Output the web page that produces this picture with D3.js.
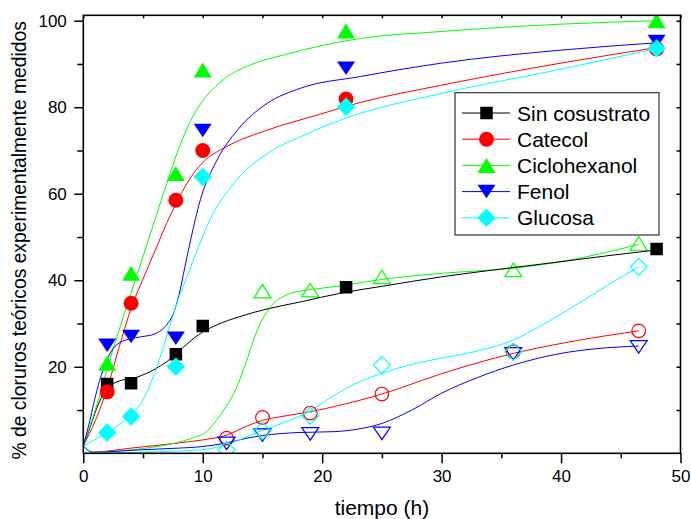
<!DOCTYPE html>
<html>
<head>
<meta charset="utf-8">
<script src="https://cdn.jsdelivr.net/npm/d3@7"></script>
<style>
  body { margin: 0; background: #fff; }
  svg { display: block; }
  text { font-family: "Liberation Sans", Arial, sans-serif; fill: #000; }
</style>
</head>
<body>
<svg id="chart" width="691" height="519"></svg>
<script>
// ---- Measured points (time in hours, % of theoretical chloride) ----
const horasLlenas = [2, 4, 7.75, 10, 22, 48];
const sinCosustrato = [16.0, 16.2, 22.9, 29.4, 38.4, 47.2];
const catecol = [14.2, 34.7, 58.5, 70.0, 81.9, 93.5];
const ciclohexanol = [20.8, 41.6, 64.7, 88.6, 97.6, 100];
const fenol = [25.0, 27.0, 26.6, 74.6, 89.0, 95.2];
const glucosa = [4.8, 8.5, 20.0, 63.9, 80.1, 93.6];

const horasAbiertas = [12, 15, 19, 25, 36, 46.5];
const catecolAb = [3.5, 8.3, 9.3, 13.7, 23.5, 28.3];
const ciclohexanolAb = [null, 37.5, 37.7, 40.8, 42.4, 48.5];
const fenolAb = [2.3, 4.2, 4.5, 4.6, 23.0, 24.6];
const glucosaAb = [0.8, 5.2, 8.7, 20.4, 23.5, 43.1];

// ---- Smoothed trend curves, [hours, %] ----
const curvaSin = [[0,1.7],[0.5,5.5],[1,9.5],[1.5,12.8],[2,15],[2.8,16.5],[4.5,17.6],[5.9,19.3],[7,21.2],[8.4,24.6],[9.8,27.7],[11.2,29.7],[13.1,31.6],[15.6,33.5],[18.2,35],[21.5,37],[25,38.6],[30,40.8],[35,42.6],[40,44.3],[44,45.7],[48,47]];
const curvaCatecol = [[0,1.7],[0.5,4.5],[1,7.5],[2,15],[3,24.5],[4,33.5],[5,40.3],[6,46.8],[7,53.3],[8,59],[9,63.8],[10,67.2],[12,70.9],[15.4,74.7],[19.6,78.2],[23.2,81.1],[30,85.1],[40,90.2],[48,93.8]];
const curvaCiclo = [[0,1.7],[0.5,5.8],[1,10],[2,19.5],[3,28.5],[4,37],[5,45.5],[6,54],[7,62.5],[8,70.5],[9,77],[10,81.5],[11.7,86.3],[14,89.8],[16.8,92.1],[23.2,95.9],[30,97.5],[40,99.2],[48,100]];
const curvaFenol = [[0,1.7],[0.5,7],[1,13],[1.5,18],[2,21.8],[2.5,24.2],[3,25.5],[4,26.5],[5,27],[6,27.6],[7,29.8],[7.5,32],[8,36.5],[8.5,43],[9,49.5],[9.8,58.6],[11.2,67.8],[12.9,74.7],[15.4,80.9],[18.2,84.4],[23.2,87.1],[30,90.2],[40,93.2],[48,94.9]];
const curvaGlucosa = [[0,1.7],[1,3.2],[2,4.8],[3,6.6],[4,8.8],[4.7,11],[5.3,14],[6.4,22],[7.3,30],[8,36],[8.7,41],[9.4,46],[10.6,54],[12.6,62.4],[15.4,69.3],[18.2,73.2],[22,77.5],[30,83.2],[40,88.8],[48,93.6]];

const curvaCatecolAb = [[0,1.7],[0.8,0.3],[4,1.2],[8,2.4],[10,3.1],[12,4.2],[13.7,6.3],[15,7.6],[16.8,8.6],[19,9.6],[21,10.8],[25,13.7],[30,18.4],[36,23.1],[40,25.4],[46.5,28.3]];
const curvaCicloAb = [[0,1.7],[0.8,0.2],[3,0.5],[5,1.1],[7.6,2.3],[9,3.4],[10.3,5],[11.2,7.8],[12,11],[12.6,13.8],[13.1,17],[13.5,20],[14.5,28],[15.6,33.6],[17,36.6],[18.4,37.6],[19.8,38.1],[21.5,38.7],[25,40.2],[30,41.6],[36,42.8],[40,44.3],[46.5,48.3]];
const curvaFenolAb = [[0,1.7],[0.8,0.2],[4,0.7],[8,1.2],[9.8,1.5],[12,2.4],[13.7,3.5],[15,4.1],[18,4.8],[21,5],[23,5.6],[25,6.9],[27.5,10],[30,13.9],[33,17.5],[36,20.4],[40,23.1],[43,24.2],[46.5,24.8]];
const curvaGlucosaAb = [[0,1.7],[0.8,0.1],[5,0.3],[9.8,0.8],[12,2],[13.5,3.6],[15,5.3],[17,7.3],[19,9.8],[21,13.4],[23.2,16.6],[25,18.5],[27.9,20.8],[30,22],[32.8,23.5],[36,26.2],[38.2,29.3],[41.9,35.4],[44,39],[46.5,43.1]];

// ---- Axis ticks and labels ----
const xTicksMajor = [0, 10, 20, 30, 40, 50];
const xTicksMinor = [5, 15, 25, 35, 45];
const yTicksMajor = [20, 40, 60, 80, 100];
const yTicksMinor = [10, 30, 50, 70, 90];
const xTitle = "tiempo (h)";
const yTitle = "% de cloruros teóricos experimentalmente medidos";
const legendNames = ["Sin cosustrato", "Catecol", "Ciclohexanol", "Fenol", "Glucosa"];

// ---- Series table ----
const filledSeries = [
  { name: legendNames[0], color: "#000000", shape: "square",  values: sinCosustrato, curve: curvaSin },
  { name: legendNames[1], color: "#ff0000", shape: "circle",  values: catecol,       curve: curvaCatecol },
  { name: legendNames[2], color: "#00ff00", shape: "up",      values: ciclohexanol,  curve: curvaCiclo },
  { name: legendNames[3], color: "#0000ff", shape: "down",    values: fenol,         curve: curvaFenol },
  { name: legendNames[4], color: "#00ffff", shape: "diamond", values: glucosa,       curve: curvaGlucosa }
];
const openSeries = [
  { color: "#ff0000", shape: "circle",  values: catecolAb,      curve: curvaCatecolAb },
  { color: "#00ff00", shape: "up",      values: ciclohexanolAb, curve: curvaCicloAb },
  { color: "#0000ff", shape: "down",    values: fenolAb,        curve: curvaFenolAb },
  { color: "#00ffff", shape: "diamond", values: glucosaAb,      curve: curvaGlucosaAb }
];

// ---- Layout ----
const frame = { left: 83.3, right: 680.5, top: 15.3, bottom: 453.3 };
const x = d3.scaleLinear().domain([0, 50]).range([frame.left, frame.right]);
const y = d3.scaleLinear().domain([0, 101.25]).range([frame.bottom, frame.top]);

const svg = d3.select("#chart");

svg.append("defs").append("clipPath").attr("id", "plotClip")
  .append("rect")
  .attr("x", frame.left).attr("y", frame.top)
  .attr("width", frame.right - frame.left).attr("height", frame.bottom - frame.top);

// marker outlines, centred on their bounding box
function markerPath(shape, filled) {
  const p = d3.path();
  if (shape === "square") {
    const a = filled ? 12.5 : 11;
    p.rect(-a / 2, -a / 2, a, a);
  } else if (shape === "circle") {
    const r = filled ? 7.5 : 6.8;
    p.moveTo(r, 0); p.arc(0, 0, r, 0, 2 * Math.PI);
  } else if (shape === "up") {
    const w = filled ? 18 : 17, h = filled ? 15 : 13.5;
    p.moveTo(0, -h / 2); p.lineTo(w / 2, h / 2); p.lineTo(-w / 2, h / 2);
  } else if (shape === "down") {
    const w = filled ? 18 : 17, h = filled ? 13.5 : 12.5;
    p.moveTo(0, h / 2); p.lineTo(w / 2, -h / 2); p.lineTo(-w / 2, -h / 2);
  } else if (shape === "diamond") {
    const d = filled ? 9.2 : 8.5;
    p.moveTo(0, -d); p.lineTo(d, 0); p.lineTo(0, d); p.lineTo(-d, 0);
  }
  p.closePath();
  return p.toString();
}

const line = d3.line()
  .x(d => x(d[0]))
  .y(d => y(d[1]))
  .curve(d3.curveMonotoneX);

const plot = svg.append("g").attr("clip-path", "url(#plotClip)");

// open (second experiment) series
openSeries.forEach(s => {
  plot.append("path")
    .attr("d", line(s.curve))
    .attr("fill", "none").attr("stroke", s.color).attr("stroke-width", 1);
});
openSeries.forEach(s => {
  const pts = horasAbiertas.map((t, i) => [t, s.values[i]]).filter(d => d[1] != null);
  plot.selectAll(null).data(pts).enter().append("path")
    .attr("transform", d => `translate(${x(d[0])},${y(d[1])})`)
    .attr("d", markerPath(s.shape, false))
    .attr("fill", "none").attr("stroke", s.color).attr("stroke-width", 1.2);
});

// filled series
filledSeries.forEach(s => {
  plot.append("path")
    .attr("d", line(s.curve))
    .attr("fill", "none").attr("stroke", s.color).attr("stroke-width", 1);
});
filledSeries.forEach(s => {
  const pts = horasLlenas.map((t, i) => [t, s.values[i]]);
  plot.selectAll(null).data(pts).enter().append("path")
    .attr("transform", d => `translate(${x(d[0])},${y(d[1])})`)
    .attr("d", markerPath(s.shape, true))
    .attr("fill", s.color).attr("stroke", "none");
});

// ---- Axes ----
const fontTick = "17px";
function styleAxis(g) {
  g.select(".domain").remove();
  g.selectAll(".tick line").attr("stroke", "#000").attr("stroke-width", 1.5);
  g.selectAll(".tick text").style("font-size", fontTick).attr("fill", "#000")
    .style("font-family", '"Liberation Sans", Arial, sans-serif');
}

svg.append("g").attr("transform", `translate(0,${frame.bottom})`)
  .call(d3.axisBottom(x).tickValues(xTicksMajor).tickSize(10).tickPadding(6.5).tickFormat(d3.format("d")))
  .call(styleAxis);
svg.append("g").attr("transform", `translate(0,${frame.bottom})`)
  .call(d3.axisBottom(x).tickValues(xTicksMinor).tickSize(5).tickFormat(""))
  .call(styleAxis);
svg.append("g").attr("transform", `translate(${frame.left},0)`)
  .call(d3.axisLeft(y).tickValues(yTicksMajor).tickSize(9).tickPadding(7.5).tickFormat(d3.format("d")))
  .call(styleAxis);
svg.append("g").attr("transform", `translate(${frame.left},0)`)
  .call(d3.axisLeft(y).tickValues(yTicksMinor).tickSize(6).tickFormat(""))
  .call(styleAxis);
// mirrored inner ticks on the top and right edges
svg.append("g").attr("transform", `translate(0,${frame.top})`)
  .call(d3.axisBottom(x).tickValues(xTicksMajor.concat(xTicksMinor)).tickSize(3).tickFormat(""))
  .call(styleAxis);
svg.append("g").attr("transform", `translate(${frame.right},0)`)
  .call(d3.axisLeft(y).tickValues(yTicksMajor.concat(yTicksMinor)).tickSize(4).tickFormat(""))
  .call(styleAxis);

svg.append("rect")
  .attr("x", frame.left).attr("y", frame.top)
  .attr("width", frame.right - frame.left).attr("height", frame.bottom - frame.top)
  .attr("fill", "none").attr("stroke", "#000").attr("stroke-width", 1.6);

// axis titles
svg.append("text")
  .attr("x", (frame.left + frame.right) / 2).attr("y", 515)
  .attr("text-anchor", "middle").style("font-size", "21px")
  .text(xTitle);
svg.append("text")
  .attr("transform", `translate(26,${(frame.top + frame.bottom) / 2 + 6}) rotate(-90)`)
  .attr("text-anchor", "middle").style("font-size", "19.3px")
  .text(yTitle);

// ---- Legend ----
const lg = { x: 455, y: 92.7, w: 204, h: 142.3, row0: 113, step: 26.2 };
const legend = svg.append("g");
legend.append("rect")
  .attr("x", lg.x).attr("y", lg.y).attr("width", lg.w).attr("height", lg.h)
  .attr("fill", "#fff").attr("stroke", "#333").attr("stroke-width", 1.2);
const items = legend.selectAll(null).data(filledSeries).enter().append("g")
  .attr("transform", (d, i) => `translate(0,${lg.row0 + i * lg.step})`);
items.append("line")
  .attr("x1", 462).attr("x2", 510).attr("y1", 0).attr("y2", 0)
  .attr("stroke", d => d.color).attr("stroke-width", 1);
items.append("path")
  .attr("transform", "translate(486.5,0)")
  .attr("d", d => markerPath(d.shape, true))
  .attr("fill", d => d.color);
items.append("text")
  .attr("x", 517).attr("y", 7.5)
  .style("font-size", "21px")
  .text(d => d.name);
</script>
</body>
</html>
